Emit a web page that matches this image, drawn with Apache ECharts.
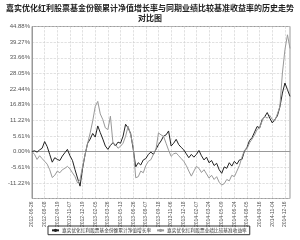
<!DOCTYPE html>
<html lang="zh">
<head>
    <meta charset="UTF-8">
    <title>历史走势对比图</title>
    <style>
        * { margin: 0; padding: 0; }
        html, body { width: 300px; height: 240px; background: #fff; }
    </style>
    <script src="https://cdn.jsdelivr.net/npm/echarts@6/dist/echarts.min.js"></script>
</head>
<body>
<div id="main" style="width: 300px;height: 240px;"></div>
<script>
    // 横轴刻度标签(每5个数据点一个)
    var tickLabels = ['2012-06-26', '2012-08-08', '2012-09-19', '2012-11-07', '2012-12-19', '2013-02-05',
        '2013-03-26', '2013-05-13', '2013-06-26', '2013-08-07', '2013-09-18', '2013-11-06', '2013-12-18',
        '2014-02-07', '2014-03-24', '2014-05-09', '2014-06-24', '2014-08-05', '2014-09-16', '2014-11-04',
        '2014-12-16'];

    // 纵轴刻度
    var yTicks = [-11.22, -5.61, 0, 5.61, 11.22, 16.83, 22.44, 28.05, 33.66, 39.27, 44.88];

    var legendNames = ['嘉实优化红利股票基金份额累计净值增长率', '嘉实优化红利股票业绩比较基准收益率'];

    // 基金份额累计净值增长率(%)
    var fundValues = [0, 0.3, -0.2, 0.6, 1.2, 3.6, 1.8, -1.0, -3.8, -2.2,
        -2.8, -3.2, -1.6, -0.4, 0.8, -1.5, -3.2, -6.5, -9.5, -12.4,
        -6.0, -1.0, 3.0, 4.5, 6.5, 5.2, 9.2, 6.8, 4.5, 2.0,
        0.8, 2.2, 3.2, 2.0, 3.4, 3.0, 5.5, 9.8, 8.5, 6.5,
        1.0, -5.5, -4.0, -4.8, -3.0, -2.5, -1.0, -0.2, -1.0, 0.8,
        2.5, 3.8, 5.5, 6.0, 7.4, 2.0, 3.0, 4.4, 2.5, 1.5,
        0.6, -0.8, -2.2, -1.0, -2.0, -1.0, 0.4, -1.5, -3.0, -2.0,
        -4.0, -3.2, -5.0, -4.2, -6.5, -7.8, -5.5, -6.0, -4.0, -5.2,
        -3.5, -4.5, -3.0, -2.8, 0.2, 1.5, 4.0, 5.0, 7.0, 9.0,
        8.5, 11.5, 12.5, 14.0, 12.0, 10.3, 11.5, 12.8, 16.0, 21.0,
        24.6, 22.2, 19.8];

    // 业绩比较基准收益率(%)
    var benchValues = [0, -1.0, -2.8, -1.5, -2.5, -3.5, -4.5, -6.5, -9.3, -8.5,
        -7.0, -7.6, -6.5, -6.0, -5.3, -6.2, -7.6, -9.0, -11.2, -10.0,
        -5.3, -1.0, 3.0, 6.7, 11.0, 16.2, 18.0, 13.5, 11.5, 8.5,
        7.9, 12.7, 3.1, 2.5, 1.2, 1.9, 3.0, 5.5, 9.1, 6.0,
        1.9, -9.4, -9.0, -7.0, -7.6, -5.0, -3.5, -2.9, -1.0, 0.7,
        6.7, 6.0, 5.5, 3.0, 0.5, -1.7, -0.8, -0.5, -1.5, -2.5,
        -3.5, -5.0, -7.0, -8.8, -7.0, -5.3, -6.0, -7.5, -6.5, -8.0,
        -9.5, -8.5, -10.0, -9.0, -11.0, -12.0, -11.5, -10.0, -10.5, -8.5,
        -9.0, -7.0, -5.0, -2.0, 0.5, 1.0, 3.1, 4.5, 6.0, 7.9,
        8.5, 11.0, 12.7, 12.0, 13.0, 11.5, 11.0, 13.5, 16.2, 28.2,
        36.6, 41.9, 37.0];

    function toPairs(arr) {
        return arr.map(function (v, i) { return [i, v]; });
    }

    var myChart = echarts.init(document.getElementById('main'));

    var option = {
        animation: false,
        backgroundColor: '#fff',
        title: {
            text: '嘉实优化红利股票基金份额累计净值增长率与同期业绩比较基准收益率的历史走势\n对比图',
            left: 'center',
            top: 3,
            padding: 0,
            textStyle: {
                fontFamily: 'Noto Sans CJK SC',
                fontSize: 8,
                fontWeight: 'bold',
                lineHeight: 10,
                align: 'center',
                color: '#222'
            }
        },
        legend: {
            data: legendNames,
            left: 48,
            top: 226,
            padding: [2, 3],
            itemGap: 5,
            itemWidth: 7,
            itemHeight: 4,
            borderColor: '#333',
            borderWidth: 1,
            textStyle: {
                fontFamily: 'Noto Sans CJK SC',
                fontSize: 4.7,
                color: '#333',
                padding: [0, 0, 0, -2]
            }
        },
        grid: {
            left: 32,
            right: 10,
            top: 26.5,
            bottom: 41.5,
            show: true,
            borderColor: '#999',
            borderWidth: 1
        },
        xAxis: {
            type: 'value',
            min: 0,
            max: 102,
            interval: 5,
            axisLine: {show: true, lineStyle: {color: '#999'}},
            axisTick: {show: false},
            splitLine: {show: true, lineStyle: {color: '#ccc', type: 'dashed', width: 0.6}},
            axisLabel: {
                rotate: 90,
                margin: 3,
                fontSize: 5,
                color: '#555',
                fontFamily: 'Liberation Sans',
                formatter: function (v) {
                    if (v % 5 !== 0) return '';
                    return tickLabels[v / 5] || '';
                }
            }
        },
        yAxis: {
            type: 'value',
            min: -16.83,
            max: 44.88,
            interval: 5.61,
            axisLine: {show: true, lineStyle: {color: '#999'}},
            axisTick: {show: false},
            splitLine: {show: true, lineStyle: {color: '#ccc', type: 'dashed', width: 0.6}},
            axisLabel: {
                margin: 2,
                fontSize: 6,
                color: '#555',
                fontFamily: 'Liberation Sans',
                formatter: function (v) {
                    var r = Math.round(v * 100) / 100;
                    for (var k = 0; k < yTicks.length; k++) {
                        if (Math.abs(yTicks[k] - r) < 0.005) return yTicks[k].toFixed(2) + '%';
                    }
                    return '';
                }
            }
        },
        series: [
            {
                name: legendNames[0],
                type: 'line',
                symbol: 'none',
                data: toPairs(fundValues),
                lineStyle: {color: '#222', width: 1},
                itemStyle: {color: '#222'}
            },
            {
                name: legendNames[1],
                type: 'line',
                symbol: 'none',
                data: toPairs(benchValues),
                lineStyle: {color: '#999', width: 1},
                itemStyle: {color: '#999'}
            }
        ]
    };
    myChart.setOption(option);
</script>
</body>
</html>
